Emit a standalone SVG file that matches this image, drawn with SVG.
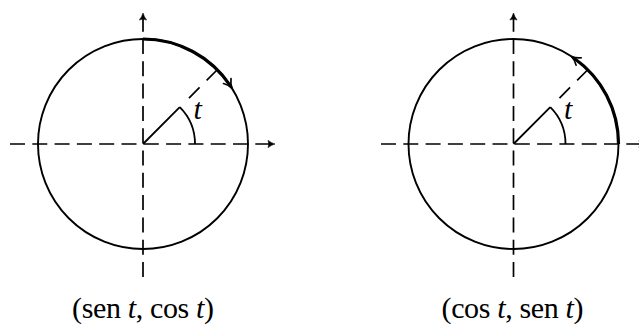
<svg xmlns="http://www.w3.org/2000/svg" width="639" height="329" viewBox="0 0 639 329">
  <style>
    .axis { fill: none; stroke: #000; stroke-width: 1.7; stroke-dasharray: 15 7.3; marker-end: url(#axisArrow); }
    .circle { fill: none; stroke: #000; stroke-width: 1.9; }
    .thick { fill: none; stroke: #000; stroke-width: 3.2; marker-end: url(#arcArrow); }
    .solid { fill: none; stroke: #000; stroke-width: 1.8; }
    .radial { fill: none; stroke: #000; stroke-width: 1.7; stroke-dasharray: 15 10; }
    .lbl { font-family: "Liberation Serif", "DejaVu Serif", serif; font-size: 30px; fill: #000; }
    .it { font-style: italic; }
  </style>
  <defs>
    <marker id="axisArrow" markerUnits="userSpaceOnUse" markerWidth="12" markerHeight="10" viewBox="-8 -5 10 10" refX="0" refY="0" orient="auto" overflow="visible">
      <path d="M-7,-3.6 Q-3.5,-0.9 0,0 Q-3.5,0.9 -7,3.6 Q-5.2,0 -7,-3.6 Z" fill="#000" stroke="#000" stroke-width="0.6" stroke-linejoin="round"/>
    </marker>
    <marker id="arcArrow" markerUnits="userSpaceOnUse" markerWidth="14" markerHeight="12" viewBox="-9 -6 14 12" refX="0" refY="0" orient="auto" overflow="visible">
      <path d="M-6,-4.5 Q-2,-1 3,0 Q-2,1 -6,4.5" fill="none" stroke="#000" stroke-width="1.7" stroke-linecap="round"/>
    </marker>
  </defs>

  <g id="left-diagram">
    <g id="left-circle">
      <circle class="circle" cx="143" cy="144" r="105"/>
    </g>
    <g id="left-connectors">
      <path class="axis" d="M10,144 H275"/>
      <path class="axis" d="M143,277 V13"/>
      <path class="radial" d="M217.25,69.75 L181.89,105.11"/>
      <path class="solid" d="M143,144 L179.77,107.23"/>
      <path class="solid" d="M195,144 A52,52 0 0 0 179.77,107.23"/>
      <path class="thick" d="M143,39 A105,105 0 0 1 230.56,86.05"/>
    </g>
    <g id="left-labels">
      <text class="lbl it" x="193.5" y="118.5">t</text>
      <text class="lbl" x="143" y="318" text-anchor="middle" textLength="142" lengthAdjust="spacing">(sen <tspan class="it">t</tspan>, cos <tspan class="it">t</tspan>)</text>
    </g>
  </g>

  <g id="right-diagram">
    <g id="right-circle">
      <circle class="circle" cx="513.5" cy="144" r="105"/>
    </g>
    <g id="right-connectors">
      <path class="axis" d="M381,144 H646"/>
      <path class="axis" d="M513.5,277 V13"/>
      <path class="radial" d="M587.75,69.75 L552.39,105.11"/>
      <path class="solid" d="M513.5,144 L550.27,107.23"/>
      <path class="solid" d="M565.5,144 A52,52 0 0 0 550.27,107.23"/>
      <path class="thick" d="M618.5,144 A105,105 0 0 0 573.73,57.99"/>
    </g>
    <g id="right-labels">
      <text class="lbl it" x="564" y="118.5">t</text>
      <text class="lbl" x="512.5" y="318" text-anchor="middle" textLength="142" lengthAdjust="spacing">(cos <tspan class="it">t</tspan>, sen <tspan class="it">t</tspan>)</text>
    </g>
  </g>
</svg>
